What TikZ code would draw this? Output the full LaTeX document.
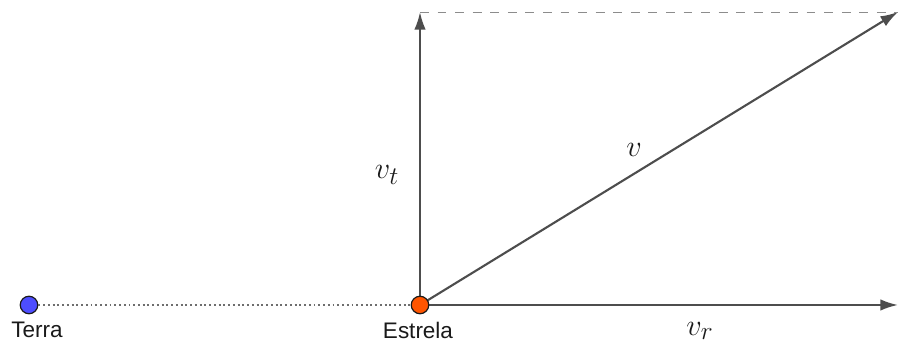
\documentclass[tikz,border=0pt]{standalone}
\usepackage{fontspec}
\setsansfont{Liberation Sans}
\usepackage{amsmath}
\usetikzlibrary{arrows.meta, positioning, calc}
\definecolor{linegray}{HTML}{4D4D4D}
\definecolor{dashgray}{HTML}{8C8C8C}
\definecolor{dotgray}{HTML}{6E6E6E}
\definecolor{earthblue}{HTML}{4D4DFF}
\definecolor{starorange}{HTML}{FF5500}
\definecolor{darktext}{HTML}{1A1A1A}

\begin{document}
\begin{tikzpicture}[
    dot/.style={circle, draw=darktext, fill=#1, line width=0.7pt,
                minimum size=0.35cm, inner sep=0pt},
    vec/.style={-{Latex[length=10pt, width=6.5pt]}, line width=1.2pt, color=linegray},
    guide/.style={dashed, dash pattern=on 5pt off 5pt, line width=0.5pt, color=dashgray},
    sight/.style={dash pattern=on 1.1pt off 1.6pt, line width=1.1pt, color=dotgray},
    placename/.style={font=\sffamily\fontsize{12.8}{15}\selectfont, text=darktext},
    mathlabel/.style={font=\fontsize{19}{23}\selectfont, text=darktext}
]
\useasboundingbox (0,0) rectangle (18,6.94);

% Points
\coordinate (rend) at (17.96,0.84);
\coordinate (ttop) at (8.4,6.70);
\coordinate (vend) at (17.96,6.70);

% Dotted line of sight
\node[dot=earthblue] (terra) at (0.58,0.84) {};
\draw[sight] (terra) -- (8.4,0.84);

% Velocity components
\draw[vec] (8.4,0.84) -- (rend);
\draw[vec] (8.4,0.84) -- (ttop);
\draw[vec] (8.4,0.84) -- (vend);
\draw[guide] (ttop) -- (vend);

\node[dot=starorange] (estrela) at (8.4,0.84) {};

% Labels
\node[placename] (terralbl) at (0.74,0.34) {Terra};
\node[placename] (estrelalbl) at (8.36,0.34) {Estrela};
\node[mathlabel] (vrlbl) at (14.0,0.32) {$v_r$};
\node[mathlabel] (vtlbl) at (7.74,3.44) {$v_t$};
\node[mathlabel] (vlbl) at (12.68,3.94) {$v$};

\end{tikzpicture}
\end{document}
